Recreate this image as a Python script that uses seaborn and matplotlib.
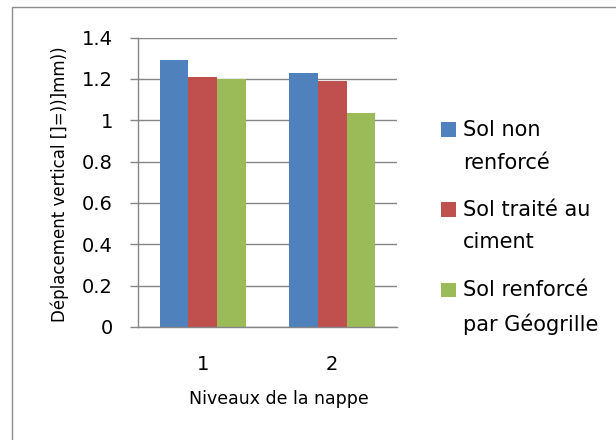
import matplotlib
matplotlib.use("Agg")
import matplotlib.pyplot as plt
import seaborn as sns
import pandas as pd
from matplotlib.patches import Rectangle
from matplotlib.legend_handler import HandlerPatch

categories = ["1", "2"]
series = ["Sol non\nrenforcé", "Sol traité au\nciment", "Sol renforcé\npar Géogrille"]
sol_non_renforce = [1.29, 1.23]
sol_traite_ciment = [1.21, 1.19]
sol_geogrille = [1.20, 1.035]
colors = ["#4F81BD", "#C0504D", "#9BBB59"]
y_ticks = [0, 0.2, 0.4, 0.6, 0.8, 1, 1.2, 1.4]
y_tick_labels = ["0", "0.2", "0.4", "0.6", "0.8", "1", "1.2", "1.4"]

rows = []
for s, vals in zip(series, [sol_non_renforce, sol_traite_ciment, sol_geogrille]):
    for c, v in zip(categories, vals):
        rows.append({"Niveau": c, "Série": s, "Valeur": v})
df = pd.DataFrame(rows)

sns.set_theme(style="white")
plt.rcParams["font.family"] = ["DejaVu Sans"]
plt.rcParams["text.color"] = "black"
plt.rcParams["axes.labelcolor"] = "black"

fig = plt.figure(figsize=(6.16, 4.4), dpi=100)
ax = fig.add_axes([138/616, 1-327/440, (397-138)/616, (327-37.5)/440])

sns.barplot(data=df, x="Niveau", y="Valeur", hue="Série", order=categories,
            hue_order=series, palette=colors, width=0.665, gap=0,
            linewidth=0, saturation=1, ax=ax, legend=True)

ax.set_ylim(0, 1.4)
ax.set_xlim(-0.5, 1.5)
ax.set_yticks(y_ticks)
ax.set_yticklabels(y_tick_labels)
ax.yaxis.grid(True, color="#868686", linewidth=1)
ax.set_axisbelow(True)
for side in ["top", "right"]:
    ax.spines[side].set_visible(False)
for side in ["left", "bottom"]:
    ax.spines[side].set_color("#868686")
    ax.spines[side].set_linewidth(1)
ax.tick_params(axis="y", which="both", left=True, length=6, width=1,
               color="#868686", labelsize=14, pad=12, labelcolor="black")
ax.tick_params(axis="x", bottom=False, length=0, labelsize=14, pad=20.5,
               labelcolor="black")
ax.set_xlabel("Niveaux de la nappe", fontsize=12.5, color="black")
ax.xaxis.set_label_coords((279-138)/259, (327-390)/289.5)
ax.set_ylabel("Déplacement vertical []=))]mm))", fontsize=12, color="black")
ax.yaxis.set_label_coords((69-138)/259, (327-184)/289.5)


class FirstLineHandler(HandlerPatch):
    def __init__(self, shift, **kw):
        super().__init__(**kw)
        self.shift = shift

    def create_artists(self, legend, orig_handle, xdescent, ydescent,
                       width, height, fontsize, trans):
        p = Rectangle((-xdescent, -ydescent + self.shift), width, height)
        self.update_prop(p, orig_handle, legend)
        p.set_transform(trans)
        return [p]


handles, labels = ax.get_legend_handles_labels()
hmap = {h: FirstLineHandler(12.8) for h in handles}
leg = ax.legend(handles, labels, loc="upper left",
                bbox_to_anchor=(431/616, 1-110/440),
                bbox_transform=fig.transFigure, frameon=False, fontsize=15,
                handlelength=0.72, handleheight=0.72, handletextpad=0.3,
                labelspacing=1.3, borderpad=0, handler_map=hmap)
for t in leg.get_texts():
    t.set_linespacing(1.78)
    t.set_color("black")

fig.patches.append(Rectangle((12/616, -0.1), 1.2, 1-7/440+0.1,
                             transform=fig.transFigure, fill=False,
                             edgecolor="#8c8c8c", linewidth=1))

fig.savefig("out.png", dpi=100, facecolor="white")
